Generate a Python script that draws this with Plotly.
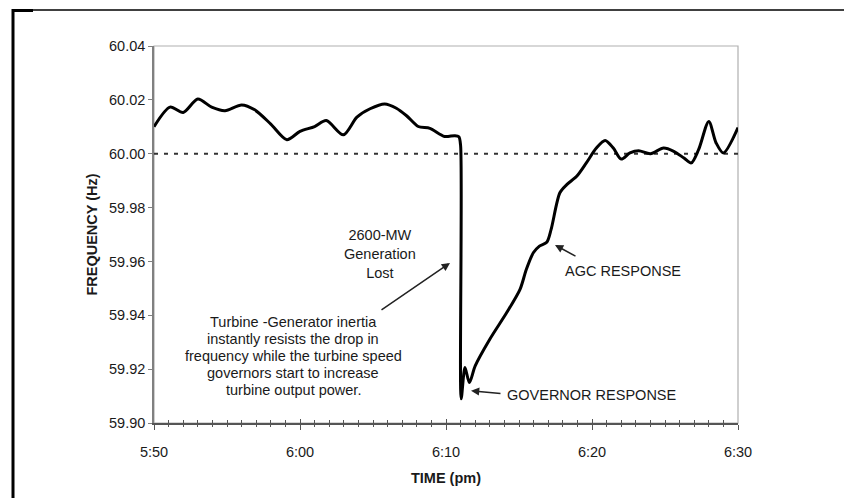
import plotly.graph_objects as go

# ---- data (minutes after 5:50 pm, frequency in Hz) ----
minutes = [0, 1.1, 2.0, 3.0, 3.95, 4.86, 6.0, 6.9, 8.0, 9.1, 10.0, 11.0, 11.8, 12.97,
           13.9, 14.8, 15.8, 16.6, 17.3, 18.1, 18.9, 19.9, 20.6, 20.88, 21.0, 21.04,
           21.3, 21.6, 22.0, 23.0, 24.16, 25.07, 25.5, 25.98, 26.4, 26.9, 27.2, 27.8,
           28.27, 28.95, 29.6, 30.3, 30.9, 31.46, 32.0, 32.6, 33.2, 34.0, 34.9, 35.6,
           36.3, 36.8, 37.3, 38.0, 38.5, 39.0, 40.0]
frequency = [60.0100, 60.0173, 60.0153, 60.0203, 60.0173, 60.0160, 60.0181, 60.0163,
             60.0110, 60.0052, 60.0083, 60.0101, 60.0123, 60.0070, 60.0136, 60.0167,
             60.0185, 60.0169, 60.0141, 60.0101, 60.0094, 60.0064, 60.0067, 60.0063,
             60.0030, 59.9090, 59.9206, 59.9150, 59.9212, 59.9311, 59.9410, 59.9496,
             59.9570, 59.9632, 59.9657, 59.9671, 59.9719, 59.9855, 59.9885, 59.9916,
             59.9965, 60.0021, 60.0049, 60.0021, 59.9980, 60.0003, 60.0011, 60.0000,
             60.0021, 60.0009, 59.9984, 59.9966, 60.0015, 60.0120, 60.0040, 60.0003,
             60.0097]
nominal = 60.00

x_tickvals = [0, 10, 20, 30, 40]
x_ticktext = ["5:50", "6:00", "6:10", "6:20", "6:30"]
y_tickvals = [59.90, 59.92, 59.94, 59.96, 59.98, 60.00, 60.02, 60.04]

turbine_lines = ["Turbine -Generator inertia", "instantly resists the drop in",
                 "frequency while the turbine speed", "governors start to increase",
                 "turbine output power."]

FONT = "Liberation Sans, Arial, sans-serif"
TXT = "#1a1a1a"

# plot area geometry in pixels (for placing annotations)
L, R, T, B = 154, 738, 46, 423
def xd(px):
    return (px - L) / (R - L) * 40
def yd(py):
    return 60.04 - (py - T) / (B - T) * 0.14

fig = go.Figure()
fig.add_trace(go.Scatter(x=[0, 40], y=[nominal, nominal], mode="lines",
                         line=dict(color="#333333", width=2, dash="4px,6px"),
                         hoverinfo="skip", showlegend=False))
fig.add_trace(go.Scatter(x=minutes, y=frequency, mode="lines",
                         line=dict(color="black", width=3, shape="spline", smoothing=0.8),
                         showlegend=False))

annotations = []
# arrows
annotations.append(dict(x=xd(450), y=yd(263), ax=-70, ay=48, text="", showarrow=True,
                        arrowhead=2, arrowsize=1.1, arrowwidth=1.5, arrowcolor="#222"))
annotations.append(dict(x=xd(555), y=yd(245), ax=22, ay=12, text="", showarrow=True,
                        arrowhead=2, arrowsize=1.1, arrowwidth=1.5, arrowcolor="#222"))
annotations.append(dict(x=xd(471), y=yd(390.7), ax=31, ay=3, text="", showarrow=True,
                        arrowhead=2, arrowsize=1.1, arrowwidth=1.5, arrowcolor="#222"))
# texts
annotations.append(dict(x=xd(380), y=yd(254), text="2600-MW<br>Generation<br>Lost",
                        showarrow=False, xanchor="center", yanchor="middle",
                        font=dict(family=FONT, size=14.5, color=TXT)))
for i, line in enumerate(turbine_lines):
    annotations.append(dict(x=xd(293), y=yd(321.7 + i * 17.1), text=line, showarrow=False,
                            xanchor="center", yanchor="middle",
                            font=dict(family=FONT, size=14.5, color=TXT)))
annotations.append(dict(x=xd(563), y=yd(271), text="AGC RESPONSE", showarrow=False,
                        xanchor="left", yanchor="middle",
                        font=dict(family=FONT, size=14.5, color=TXT)))
annotations.append(dict(x=xd(505), y=yd(394.5), text="GOVERNOR RESPONSE", showarrow=False,
                        xanchor="left", yanchor="middle",
                        font=dict(family=FONT, size=14.5, color=TXT)))

W, H = 844, 498
def px_x(px):
    return (px - L) / (R - L)
def px_y(py):
    return (B - py) / (B - T)

shapes = [
    # plot area light border
    dict(type="rect", xref="paper", yref="paper", x0=0, y0=0, x1=1, y1=1,
         line=dict(color="#b0b0b0", width=1.2), layer="below"),
    # outer page frame: left and top
    dict(type="line", xref="paper", yref="paper", x0=px_x(13), x1=px_x(13),
         y0=px_y(9), y1=px_y(500), line=dict(color="black", width=3)),
    dict(type="line", xref="paper", yref="paper", x0=px_x(12), x1=px_x(846),
         y0=px_y(10), y1=px_y(10), line=dict(color="black", width=1.3)),
    dict(type="line", xref="paper", yref="paper", x0=px_x(12), x1=px_x(33),
         y0=px_y(10.5), y1=px_y(10.5), line=dict(color="black", width=3)),
]

fig.update_layout(
    width=W, height=H,
    margin=dict(l=L, r=W - R, t=T, b=H - B),
    paper_bgcolor="white", plot_bgcolor="white",
    font=dict(family=FONT, size=14.5, color=TXT),
    showlegend=False,
    annotations=annotations,
    shapes=shapes,
    xaxis=dict(range=[0, 40], tickvals=x_tickvals, ticktext=x_ticktext,
               showgrid=False, zeroline=False, showline=True, linecolor="#555",
               linewidth=1.5, ticks="outside", ticklen=5, tickwidth=1.2, tickcolor="#555",
               minor=dict(dtick=1, ticks="outside", ticklen=2, tickwidth=1, tickcolor="#555"),
               ticklabelstandoff=10,
               tickfont=dict(family=FONT, size=14.5, color=TXT),
               title=dict(text="<b>TIME (pm)</b>", standoff=14,
                          font=dict(family=FONT, size=14.5, color=TXT))),
    xaxis2=dict(range=[0, 40], overlaying="x", matches="x", side="bottom", anchor="y",
                showgrid=False, zeroline=False, showline=False, showticklabels=False,
                tickvals=x_tickvals, ticks="inside", ticklen=4, tickwidth=1.2, tickcolor="#555",
                minor=dict(dtick=1, ticks="inside", ticklen=3, tickwidth=1, tickcolor="#555")),
    yaxis=dict(range=[59.90, 60.04], tickvals=y_tickvals, tickformat=".2f",
               showgrid=False, zeroline=False, showline=True, linecolor="#808080",
               linewidth=1.5, ticks="outside", ticklen=4, tickwidth=1.2, tickcolor="#808080",
               tickfont=dict(family=FONT, size=14.5, color=TXT),
               title=dict(text="<b>FREQUENCY (Hz)</b>", standoff=8,
                          font=dict(family=FONT, size=14.5, color=TXT))),
)
# invisible trace so the overlay axis renders
fig.add_trace(go.Scatter(x=[0], y=[nominal], xaxis="x2", mode="markers",
                         marker=dict(opacity=0), hoverinfo="skip", showlegend=False))

fig.write_html("out.html", config={"displayModeBar": False},
               post_script="document.body.style.margin='0';document.body.style.padding='0';")
